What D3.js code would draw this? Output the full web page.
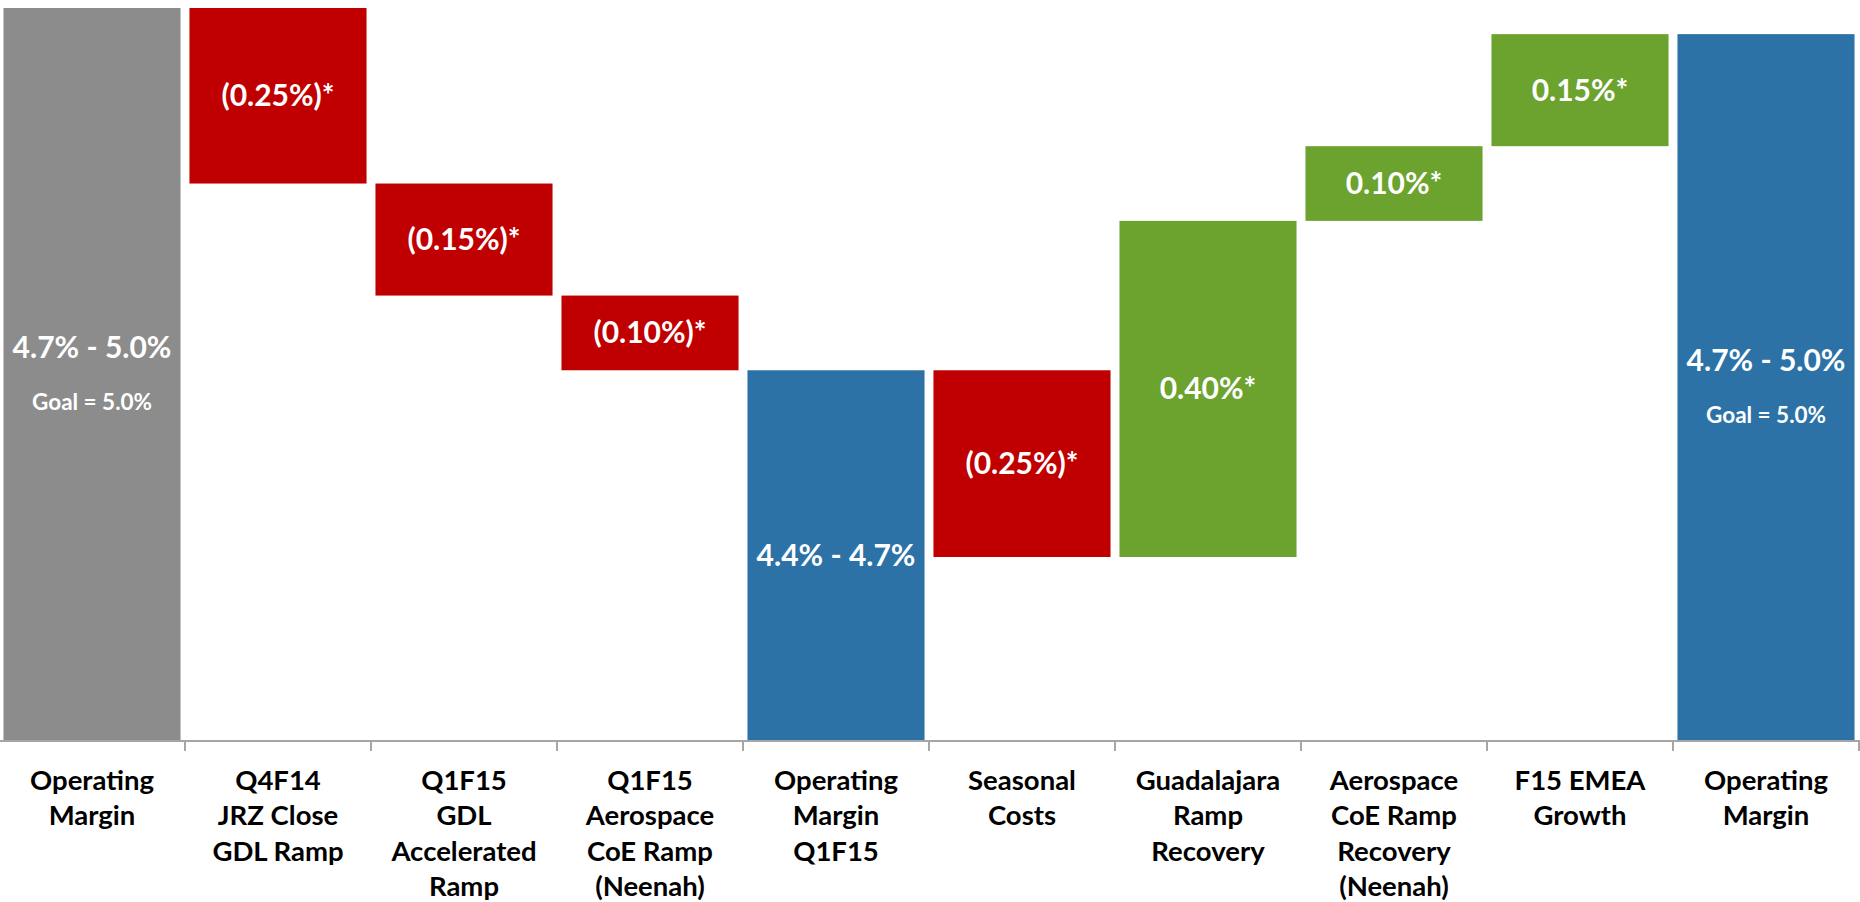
<!DOCTYPE html>
<html>
  <head>
    <meta charset="utf-8">
    <script src="https://d3js.org/d3.v7.min.js"></script>
    <title>Operating Margin Bridge</title>
    <style>
      body {
        margin: 0px;
        background: #ffffff;
      }
      .cat-label {
        fill: #000000;
        font-size: 27.5px;
        font-weight: bold;
        font-family: Lato, 'Open Sans', sans-serif;
      }
      .value-label {
        fill: #ffffff;
        font-size: 30px;
        font-weight: bold;
        font-family: Lato, 'Open Sans', sans-serif;
      }
      .goal-label {
        fill: #ffffff;
        font-size: 22.5px;
        font-weight: bold;
        font-family: Lato, 'Open Sans', sans-serif;
      }
    </style>
  </head>
  <body>
    <script>
      // categories, one array of lines per bar
      const categories = [
        ['Operating', 'Margin'],
        ['Q4F14', 'JRZ Close', 'GDL Ramp'],
        ['Q1F15', 'GDL', 'Accelerated', 'Ramp'],
        ['Q1F15', 'Aerospace', 'CoE Ramp', '(Neenah)'],
        ['Operating', 'Margin', 'Q1F15'],
        ['Seasonal', 'Costs'],
        ['Guadalajara', 'Ramp', 'Recovery'],
        ['Aerospace', 'CoE Ramp', 'Recovery', '(Neenah)'],
        ['F15 EMEA', 'Growth'],
        ['Operating', 'Margin']
      ];
      // start / down / up / subtotal / total
      const kinds = ['start', 'down', 'down', 'down', 'subtotal', 'down', 'up', 'up', 'up', 'total'];
      // bar sizes as drawn (percent); subtotals are the running sum
      const values = [4.85, -0.235, -0.15, -0.10, null, -0.25, 0.45, 0.10, 0.15, null];
      const valueLabels = ['4.7% - 5.0%', '(0.25%)*', '(0.15%)*', '(0.10%)*', '4.4% - 4.7%',
                           '(0.25%)*', '0.40%*', '0.10%*', '0.15%*', '4.7% - 5.0%'];
      const goalLabels = ['Goal = 5.0%', '', '', '', '', '', '', '', '', 'Goal = 5.0%'];
      const axisMin = 3.87;

      const colors = {
        start: '#8c8c8c',
        down: '#c00000',
        up: '#6ba32e',
        subtotal: '#2c72a6',
        total: '#2c72a6'
      };

      const width = 1860;
      const height = 902;

      const svg = d3.select('body').append('svg')
        .attr('width', width)
        .attr('height', height);

      // running totals -> bar extents
      let running = 0;
      const bars = categories.map((c, i) => {
        let lo, hi;
        if (kinds[i] === 'start') {
          running = values[i];
          lo = axisMin; hi = running;
        } else if (kinds[i] === 'subtotal' || kinds[i] === 'total') {
          lo = axisMin; hi = running;
        } else {
          const prev = running;
          running += values[i];
          lo = Math.min(prev, running); hi = Math.max(prev, running);
        }
        return { i, lo, hi, kind: kinds[i], label: valueLabels[i], goal: goalLabels[i] };
      });

      const xScale = d3.scaleBand()
        .domain(d3.range(categories.length))
        .range([-1, 1859])
        .paddingInner(0.048)
        .paddingOuter(0.024);

      const yScale = d3.scaleLinear()
        .domain([axisMin, 4.85])
        .range([740, 8]);

      const g = svg.append('g');

      g.selectAll('rect.bar').data(bars)
        .enter().append('rect')
          .attr('class', 'bar')
          .attr('x', d => xScale(d.i))
          .attr('width', xScale.bandwidth())
          .attr('y', d => yScale(d.hi))
          .attr('height', d => yScale(d.lo) - yScale(d.hi))
          .attr('fill', d => colors[d.kind]);

      // value labels
      const labelG = g.selectAll('g.lbl').data(bars)
        .enter().append('g')
          .attr('class', 'lbl')
          .attr('transform', d => `translate(${xScale(d.i) + xScale.bandwidth() / 2},${(yScale(d.lo) + yScale(d.hi)) / 2})`);

      labelG.append('text')
        .attr('class', 'value-label')
        .attr('text-anchor', 'middle')
        .attr('dy', d => d.goal ? '-0.52em' : '0.35em')
        .text(d => d.label);

      labelG.filter(d => d.goal).append('text')
        .attr('class', 'goal-label')
        .attr('text-anchor', 'middle')
        .attr('y', 28)
        .attr('dy', '0.35em')
        .text(d => d.goal);

      // category axis
      const axisY = 741;
      const step = xScale.step();
      const x0 = xScale.range()[0];

      g.append('line')
        .attr('x1', 0)
        .attr('x2', width)
        .attr('y1', axisY)
        .attr('y2', axisY)
        .attr('stroke', '#a6a6a6')
        .attr('stroke-width', 2);

      g.selectAll('line.sep').data(d3.range(1, categories.length + 1))
        .enter().append('line')
          .attr('class', 'sep')
          .attr('x1', k => x0 + k * step)
          .attr('x2', k => x0 + k * step)
          .attr('y1', axisY)
          .attr('y2', axisY + 10)
          .attr('stroke', '#a6a6a6')
          .attr('stroke-width', 2);

      const catText = g.selectAll('text.cat-label').data(categories)
        .enter().append('text')
          .attr('class', 'cat-label')
          .attr('text-anchor', 'middle')
          .attr('x', (d, i) => xScale(i) + xScale.bandwidth() / 2)
          .attr('y', 790);

      catText.selectAll('tspan').data(d => d)
        .enter().append('tspan')
          .attr('x', function () { return d3.select(this.parentNode).attr('x'); })
          .attr('dy', (d, k) => k === 0 ? 0 : 35.3)
          .text(d => d);
    </script>
  </body>
</html>
